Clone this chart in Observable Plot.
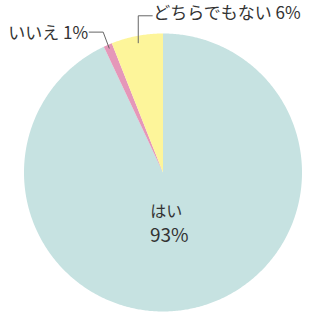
<!DOCTYPE html>
<html><head><meta charset="utf-8">
<script src="https://cdn.jsdelivr.net/npm/d3@7"></script>
<script src="https://cdn.jsdelivr.net/npm/@observablehq/plot@0.6"></script>
<style>
html,body{margin:0;padding:0;background:#fff;}
#chart svg{display:block;}
</style>
</head><body><div id="chart"></div>
<script>
const labels = ["はい", "いいえ", "どちらでもない"];
const values = [93, 1, 6];
const colors = ["#c6e2e1", "#e597b9", "#fdf59a"];

const R = 139;
const pie = d3.pie().sort(null).value(d => d.value)(labels.map((l, i) => ({label: l, value: values[i]})));

// polygon points for each slice (angle 0 at top, clockwise)
const pts = [];
for (const s of pie) {
  const n = Math.max(4, Math.ceil((s.endAngle - s.startAngle) / 0.01));
  pts.push({label: s.data.label, x: 0, y: 0});
  for (let k = 0; k <= n; k++) {
    const a = s.startAngle + (s.endAngle - s.startAngle) * k / n;
    pts.push({label: s.data.label, x: R * Math.sin(a), y: R * Math.cos(a)});
  }
}
const mid = s => (s.startAngle + s.endAngle) / 2;
const polar = (a, r) => ({x: r * Math.sin(a), y: r * Math.cos(a)});

// leader lines
const noS = pie[1], maybeS = pie[2];
const pNo = polar(mid(noS), R * 0.975);
const pMb = polar(mid(maybeS), R * 0.95);
const leaders = [
  {g: "no", ...pNo},
  {g: "no", x: pNo.x - 6, y: pNo.y + 16},
  {g: "no", x: pNo.x - 20, y: pNo.y + 16},
  {g: "mb", ...pMb},
  {g: "mb", x: pMb.x, y: pMb.y + 27},
  {g: "mb", x: pMb.x + 14, y: pMb.y + 27}
];
const noLabel = [{text: `${labels[1]} ${values[1]}%`, x: pNo.x - 21, y: pNo.y + 16}];
const mbLabel = [{text: `${labels[2]} ${values[2]}%`, x: pMb.x + 15, y: pMb.y + 27}];
const inC = polar(mid(pie[0]), R * 0.37);
const inName = [{text: labels[0], x: inC.x, y: inC.y}];
const inValue = [{text: `${values[0]}%`, x: inC.x, y: inC.y}];

const chart = Plot.plot({
  width: 331, height: 312,
  margin: 0,
  x: {domain: [-162.5, 168.5], axis: null},
  y: {domain: [-140, 172], axis: null},
  color: {domain: labels, range: colors},
  style: {fontFamily: "'Noto Sans CJK JP', sans-serif", background: "#fff"},
  marks: [
    Plot.line(pts, {x: "x", y: "y", z: "label", fill: "label", stroke: null, curve: "linear-closed"}),
    Plot.line(leaders, {x: "x", y: "y", z: "g", stroke: "#666", strokeWidth: 1}),
    Plot.text(noLabel, {x: "x", y: "y", text: "text", textAnchor: "end", fontSize: 17, fill: "#333", dy: 1}),
    Plot.text(mbLabel, {x: "x", y: "y", text: "text", textAnchor: "start", fontSize: 17, fill: "#333", dy: -2}),
    Plot.text(inName, {x: "x", y: "y", text: "text", textAnchor: "middle", fontSize: 16, fill: "#333", dx: -8, dy: -11}),
    Plot.text(inValue, {x: "x", y: "y", text: "text", textAnchor: "middle", fontSize: 19, fill: "#333", dx: -5, dy: 13})
  ]
});
document.getElementById("chart").append(chart);
</script>
</body></html>
